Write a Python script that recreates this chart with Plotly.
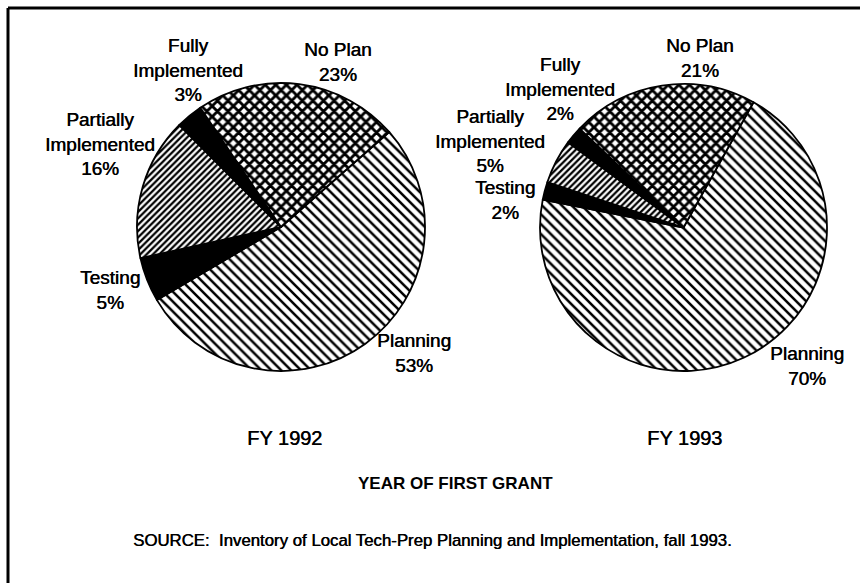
import plotly.graph_objects as go

# --- data -------------------------------------------------------------
categories = ["Planning", "Testing", "Partially Implemented", "Fully Implemented", "No Plan"]
label_lines = [["Planning"], ["Testing"], ["Partially", "Implemented"], ["Fully", "Implemented"], ["No Plan"]]
fy1992 = [53, 5, 16, 3, 23]
fy1993 = [70, 2, 5, 2, 21]
years = ["FY 1992", "FY 1993"]
axis_title = "YEAR OF FIRST GRANT"
source_note = "SOURCE:  Inventory of Local Tech-Prep Planning and Implementation, fall 1993."

# --- layout helpers (pixel -> paper) ----------------------------------
W, H = 860, 583


def px(x):
    return x / W


def py(y):
    return 1 - y / H


FONT = "Liberation Sans, Arial, Helvetica, sans-serif"
INK = "0.5px 0 0 black"  # slightly heavier print

# pie geometry: centre (x, y) and radius in pixels, start angle (deg, clockwise from 12 o'clock)
pies = [
    dict(values=fy1992, cx=281, cy=227, r=144, rotation=48.7),
    dict(values=fy1993, cx=683.5, cy=227.5, r=143.5, rotation=29.2),
]

# slice fills: hatched white or solid black
fill_colors = ["white", "black", "white", "black", "white"]
hatch = ["\\", "", "/", "", "x"]
hatch_size = [7, 6, 4.5, 6, 7.5]
hatch_solidity = [0.36, 1, 0.5, 1, 0.62]

# label block centres (pixels) per pie, in category order
label_pos = [
    [(414, 353), (110, 290), (100, 144), (188, 70), (338, 62)],
    [(807, 366), (505, 200), (490, 141), (560, 89), (700, 58)],
]
year_pos = [(284, 438), (684, 438)]

fig = go.Figure()

for p in pies:
    fig.add_trace(go.Pie(
        labels=categories,
        values=p["values"],
        sort=False,
        direction="clockwise",
        rotation=p["rotation"],
        textinfo="none",
        hoverinfo="label+percent",
        showlegend=False,
        domain=dict(x=[px(p["cx"] - p["r"]), px(p["cx"] + p["r"])],
                    y=[py(p["cy"] + p["r"]), py(p["cy"] - p["r"])]),
        marker=dict(
            colors=fill_colors,
            line=dict(color="black", width=1.8),
            pattern=dict(shape=hatch, fgcolor="black", bgcolor=fill_colors,
                         size=hatch_size, solidity=hatch_solidity, fillmode="replace"),
        ),
    ))

annotations = []
for p, positions in zip(pies, label_pos):
    for lines, v, (x, y) in zip(label_lines, p["values"], positions):
        text = "<br>".join(lines + [f"{v}%"])
        annotations.append(dict(
            x=px(x), y=py(y), xref="paper", yref="paper",
            text=text, showarrow=False, xanchor="center", yanchor="middle",
            align="center", font=dict(family=FONT, size=19, color="black", shadow=INK),
        ))

for label, (x, y) in zip(years, year_pos):
    annotations.append(dict(
        x=px(x), y=py(y), xref="paper", yref="paper", text=label,
        showarrow=False, xanchor="center", yanchor="middle",
        font=dict(family=FONT, size=20, color="black", shadow=INK),
    ))

annotations.append(dict(
    x=px(455), y=py(483), xref="paper", yref="paper", text=f"<b>{axis_title}</b>",
    showarrow=False, xanchor="center", yanchor="middle",
    font=dict(family=FONT, size=17, color="black"),
))
annotations.append(dict(
    x=px(432), y=py(540), xref="paper", yref="paper", text=source_note,
    showarrow=False, xanchor="center", yanchor="middle",
    font=dict(family=FONT, size=16.8, color="black", shadow=INK),
))

# frame: top and left rules
shapes = [
    dict(type="line", xref="paper", yref="paper", x0=px(8), x1=1, y0=py(8), y1=py(8),
         line=dict(color="black", width=3)),
    dict(type="line", xref="paper", yref="paper", x0=px(8), x1=px(8), y0=py(8), y1=0,
         line=dict(color="black", width=3)),
]

fig.update_layout(
    width=W, height=H,
    margin=dict(l=0, r=0, t=0, b=0),
    paper_bgcolor="white", plot_bgcolor="white",
    annotations=annotations, shapes=shapes,
)

fig.write_html("out.html")
